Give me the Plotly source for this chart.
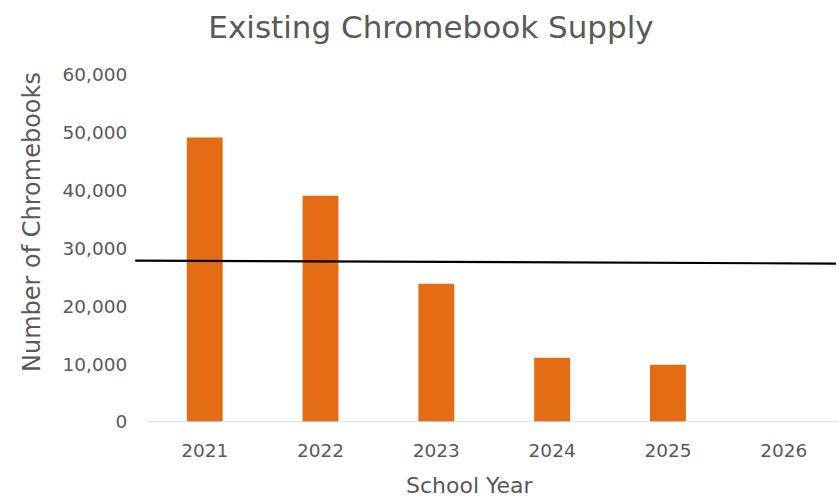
import plotly.graph_objects as go

years = ["2021", "2022", "2023", "2024", "2025", "2026"]
supply = [49200, 39100, 23900, 11100, 9900, 0]
line_x = [-0.6, 5.45]
line_y = [27900, 27400]

FONT = "DejaVu Sans"
GRAY = "#595959"
ORANGE = "#E46C14"

W, H = 839, 498
L, R, T, B = 135, 839, 75, 422
PW, PH = R - L, B - T

xpos = list(range(len(years)))

fig = go.Figure()
fig.add_trace(go.Bar(x=xpos, y=supply, marker_color=ORANGE, width=0.31,
                     marker_line_width=0, showlegend=False))
fig.add_trace(go.Scatter(x=[-0.5, 5.5], y=[0, 0], mode="lines",
                         line=dict(color="#D9D9D9", width=1.5), showlegend=False,
                         hoverinfo="skip"))
fig.add_trace(go.Scatter(x=line_x, y=line_y, mode="lines",
                         line=dict(color="black", width=2.2), showlegend=False))

fig.update_layout(
    width=W, height=H,
    margin=dict(l=L, r=W - R, t=T, b=H - B, autoexpand=False),
    paper_bgcolor="white", plot_bgcolor="white",
    font=dict(family=FONT, color=GRAY),
    title=dict(text="Existing Chromebook Supply", x=431 / W, xref="container",
               xanchor="center", y=1 - 27 / H, yref="container", yanchor="middle",
               font=dict(size=31, color=GRAY, family=FONT)),
    xaxis=dict(range=[-0.602, 5.477], tickmode="array", tickvals=xpos, ticktext=years,
               showgrid=False, showline=False, zeroline=False,
               ticks="outside", ticklen=12, tickcolor="rgba(0,0,0,0)",
               tickfont=dict(size=18.5, color=GRAY, family=FONT)),
    yaxis=dict(range=[0, 60000], tickvals=[0, 10000, 20000, 30000, 40000, 50000, 60000],
               tickformat=",d", showgrid=False, showline=False, zeroline=False,
               ticks="outside", ticklen=3, tickcolor="rgba(0,0,0,0)",
               tickfont=dict(size=18.5, color=GRAY, family=FONT)),
    annotations=[
        dict(text="School Year", showarrow=False,
             x=(470 - L) / PW, xref="paper",
             y=-(485 - B) / PH, yref="paper",
             xanchor="center", yanchor="middle",
             font=dict(size=22, color=GRAY, family=FONT)),
        dict(text="Number of Chromebooks", textangle=-90, showarrow=False,
             x=-(L - 32) / PW, xref="paper",
             y=(B - 222) / PH, yref="paper",
             xanchor="center", yanchor="middle",
             font=dict(size=24, color=GRAY, family=FONT)),
    ],
)

fig.write_html("out.html", config={"displayModeBar": False},
               post_script="document.body.style.margin='0';document.body.style.overflow='hidden';")
